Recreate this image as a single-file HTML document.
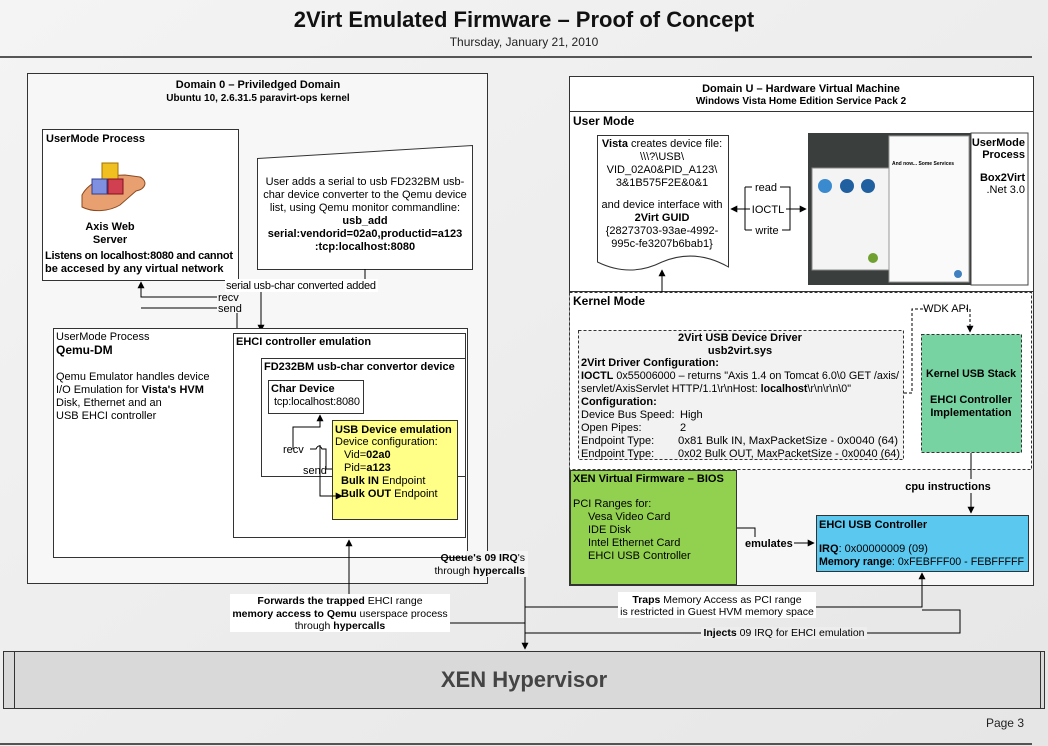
<!DOCTYPE html>
<html><head><meta charset="utf-8"><style>
html,body{margin:0;padding:0;background:#ededed;}
svg{display:block;font-family:"Liberation Sans",sans-serif;}
</style></head><body>
<svg width="1048" height="746" viewBox="0 0 1048 746" xmlns="http://www.w3.org/2000/svg">
<defs>
<marker id="a" viewBox="0 0 10 10" refX="9" refY="5" markerWidth="7" markerHeight="7" orient="auto-start-reverse"><path d="M0,0L10,5L0,10z" fill="#000"/></marker>
<linearGradient id="bg" x1="0" y1="0" x2="1" y2="1"><stop offset="0" stop-color="#f4f4f4"/><stop offset="1" stop-color="#e6e6e6"/></linearGradient>
</defs>
<rect width="1048" height="746" fill="url(#bg)"/>
<text x="524" y="27" font-size="22" font-weight="bold" text-anchor="middle" fill="#111">2Virt Emulated Firmware – Proof of Concept</text>
<text x="524" y="46" font-size="12" text-anchor="middle" fill="#222">Thursday, January 21, 2010</text>
<line x1="0" y1="57" x2="1032" y2="57" stroke="#222" stroke-width="1.5"/>

<!-- Domain 0 -->
<rect x="27.5" y="73.5" width="460" height="510" fill="#f7f7f7" stroke="#333"/>
<text x="258" y="88" font-size="11" font-weight="bold" text-anchor="middle">Domain 0 – Priviledged Domain</text>
<text x="258" y="101" font-size="10" font-weight="bold" text-anchor="middle">Ubuntu 10, 2.6.31.5 paravirt-ops kernel</text>

<rect x="42.5" y="129.5" width="196" height="151" fill="#fff" stroke="#333"/>
<text x="46" y="142" font-size="11" font-weight="bold">UserMode Process</text>
<g transform="translate(80,155)">
<path d="M2,40 C10,25 30,20 45,20 L60,22 C68,26 66,34 56,36 L40,50 C30,56 14,58 2,52z" fill="#e8a070" stroke="#8a4a20"/>
<rect x="22" y="8" width="16" height="16" fill="#f0c020" stroke="#a07000"/>
<rect x="12" y="24" width="15" height="15" fill="#8090e0" stroke="#304090"/>
<rect x="28" y="24" width="15" height="15" fill="#d04050" stroke="#801020"/>
</g>
<text x="110" y="230" font-size="11" font-weight="bold" text-anchor="middle">Axis Web</text>
<text x="110" y="243" font-size="11" font-weight="bold" text-anchor="middle">Server</text>
<text x="45" y="259" font-size="11" font-weight="bold" textLength="188">Listens on localhost:8080 and cannot</text>
<text x="45" y="272" font-size="11" font-weight="bold">be accesed by any virtual network</text>

<path d="M257.5,158.5 L472.5,145.5 L472.5,269.5 L257.5,269.5z" fill="#fff" stroke="#333"/>
<g font-size="11" text-anchor="middle"><text x="365" y="185">User adds a serial to usb FD232BM usb-</text>
<text x="365" y="198">char device  converter to the Qemu device</text>
<text x="365" y="211">list, using Qemu monitor commandline:</text>
<text x="365" y="224" font-weight="bold">usb_add</text>
<text x="365" y="237" font-weight="bold">serial:vendorid=02a0,productid=a123</text>
<text x="365" y="250" font-weight="bold">:tcp:localhost:8080</text></g>
<line x1="365" y1="269" x2="365" y2="280" stroke="#000"/>
<rect x="225" y="279" width="153" height="13" fill="#fff"/>
<text x="301" y="289" font-size="11" text-anchor="middle" textLength="150">serial usb-char converted added</text>
<line x1="261" y1="292" x2="261" y2="331" stroke="#000" marker-end="url(#a)"/>
<path d="M217,297 H141 V282" fill="none" stroke="#000" marker-end="url(#a)"/>
<path d="M217,308 H141" fill="none" stroke="#000"/>
<text x="218" y="301" font-size="11">recv</text>
<text x="218" y="312" font-size="11">send</text>
<line x1="237" y1="313" x2="237" y2="333" stroke="#000"/>

<!-- Qemu DM -->
<rect x="53.5" y="328.5" width="414" height="229" fill="#fff" stroke="#333"/>
<text x="56" y="340" font-size="11">UserMode Process</text>
<text x="56" y="354" font-size="12" font-weight="bold">Qemu-DM</text>
<g font-size="11"><text x="56" y="380">Qemu Emulator handles device</text>
<text x="56" y="393">I/O Emulation for <tspan font-weight="bold">Vista's HVM</tspan></text>
<text x="56" y="406">Disk, Ethernet and an</text>
<text x="56" y="419">USB EHCI controller</text></g>
<rect x="233.5" y="333.5" width="232" height="204" fill="#fff" stroke="#333"/>
<text x="236" y="345" font-size="11" font-weight="bold">EHCI controller emulation</text>
<rect x="261.5" y="358.5" width="204" height="118" fill="#fff" stroke="#333"/>
<text x="264" y="370" font-size="11" font-weight="bold">FD232BM usb-char convertor device</text>
<rect x="268.5" y="380.5" width="95" height="33" fill="#fff" stroke="#333"/>
<text x="271" y="392" font-size="11" font-weight="bold">Char Device</text>
<text x="274" y="405" font-size="11" textLength="86">tcp:localhost:8080</text>
<rect x="332.5" y="420.5" width="125" height="99" fill="#ffff88" stroke="#333"/>
<g font-size="11"><text x="335" y="433" font-weight="bold">USB Device emulation</text>
<text x="335" y="445">Device configuration:</text>
<text x="344" y="458">Vid=<tspan font-weight="bold">02a0</tspan></text>
<text x="344" y="471">Pid=<tspan font-weight="bold">a123</tspan></text>
<text x="341" y="484"><tspan font-weight="bold">Bulk IN</tspan> Endpoint</text>
<text x="341" y="497"><tspan font-weight="bold">Bulk OUT</tspan> Endpoint</text></g>
<path d="M293,449 V427 H320 V415" fill="none" stroke="#000" marker-end="url(#a)"/>
<path d="M310,449 h6 q3,-6 6,0 h4 V469 H332" fill="none" stroke="#000"/>
<path d="M320,445 V496 H342" fill="none" stroke="#000" marker-end="url(#a)"/>
<text x="283" y="453" font-size="11">recv</text>
<text x="303" y="474" font-size="11">send</text>
<line x1="349" y1="595" x2="349" y2="540" stroke="#000" marker-end="url(#a)"/>
<rect x="230" y="594" width="220" height="38" fill="#fff"/>
<g font-size="10.5" text-anchor="middle"><text x="340" y="604"><tspan font-weight="bold">Forwards the trapped</tspan> EHCI range</text>
<text x="340" y="617"><tspan font-weight="bold">memory access to Qemu</tspan> userspace process</text>
<text x="340" y="629">through <tspan font-weight="bold">hypercalls</tspan></text></g>
<line x1="450" y1="623" x2="525" y2="623" stroke="#000"/>
<rect x="466" y="551" width="62" height="26" fill="#f4f4f4"/>
<text x="525" y="561" font-size="10.5" text-anchor="end"><tspan font-weight="bold">Queue's 09 IRQ</tspan>'s</text>
<text x="525" y="574" font-size="10.5" text-anchor="end">through <tspan font-weight="bold">hypercalls</tspan></text>
<line x1="525" y1="577" x2="525" y2="649" stroke="#000" marker-end="url(#a)"/>

<!-- Domain U -->
<rect x="569.5" y="76.5" width="464" height="509" fill="#f7f7f7" stroke="#333"/>
<rect x="569.5" y="76.5" width="464" height="35" fill="#fff" stroke="#333"/>
<text x="801" y="92" font-size="11" font-weight="bold" text-anchor="middle">Domain U – Hardware Virtual Machine</text>
<text x="801" y="104" font-size="10" font-weight="bold" text-anchor="middle">Windows Vista Home Edition Service Pack 2</text>
<rect x="569.5" y="111.5" width="464" height="180" fill="#fff" stroke="#333"/>
<text x="573" y="125" font-size="12" font-weight="bold">User Mode</text>
<path d="M597.5,135.5 H728.5 V267 Q695,248 662,262 Q630,278 597.5,262z" fill="#fff" stroke="#333"/>
<g font-size="11" text-anchor="middle"><text x="662" y="147"><tspan font-weight="bold">Vista</tspan> creates device file:</text>
<text x="662" y="160">\\\?\USB\</text>
<text x="662" y="173">VID_02A0&amp;PID_A123\</text>
<text x="662" y="186">3&amp;1B575F2E&amp;0&amp;1</text>
<text x="662" y="208">and device interface with</text>
<text x="662" y="221" font-weight="bold">2Virt GUID</text>
<text x="662" y="234">{28273703-93ae-4992-</text>
<text x="662" y="247">995c-fe3207b6bab1}</text></g>
<path d="M745,187 V230 M745,187 H790 V230 H745" fill="none" stroke="#000"/>
<line x1="750" y1="209" x2="731" y2="209" stroke="#000" marker-end="url(#a)"/>
<line x1="785" y1="209" x2="806" y2="209" stroke="#000" marker-end="url(#a)"/>
<rect x="752" y="182" width="28" height="10" fill="#fff"/><text x="766" y="191" font-size="11" text-anchor="middle">read</text>
<rect x="752" y="203" width="34" height="12" fill="#fff"/><text x="768" y="213" font-size="11" text-anchor="middle">IOCTL</text>
<rect x="752" y="225" width="30" height="10" fill="#fff"/><text x="767" y="234" font-size="11" text-anchor="middle">write</text>
<rect x="808" y="133" width="163" height="152" fill="#3a3e3c"/>
<rect x="812" y="168" width="80" height="102" fill="#f4f4f4" stroke="#888"/>
<circle cx="825" cy="186" r="7" fill="#3a8ad0"/><circle cx="847" cy="186" r="7" fill="#2060a0"/><circle cx="868" cy="186" r="7" fill="#2060a0"/>
<circle cx="873" cy="258" r="5" fill="#70a030"/>
<rect x="889" y="136" width="80" height="146" fill="#fafafa" stroke="#999"/>
<text x="892" y="165" font-size="5" font-weight="bold">And now... Some Services</text>
<circle cx="958" cy="274" r="4" fill="#4080c0"/>
<rect x="971" y="133" width="57" height="152" fill="#fff" stroke="#444"/>
<g font-size="11" font-weight="bold" text-anchor="end"><text x="1025" y="146">UserMode</text><text x="1025" y="158">Process</text><text x="1025" y="181">Box2Virt</text></g>
<text x="1025" y="193" font-size="11" text-anchor="end">.Net 3.0</text>
<line x1="662" y1="293" x2="662" y2="270" stroke="#000" marker-end="url(#a)"/>

<rect x="569.5" y="292.5" width="462" height="177" fill="#fff" stroke="#333" stroke-dasharray="3,2"/>
<text x="573" y="305" font-size="12" font-weight="bold">Kernel Mode</text>
<rect x="578.5" y="330.5" width="325" height="129" fill="#f2f2f2" stroke="#333" stroke-dasharray="3,2"/>
<g font-size="11"><text x="740" y="341" font-weight="bold" text-anchor="middle">2Virt USB Device Driver</text>
<text x="740" y="354" font-weight="bold" text-anchor="middle">usb2virt.sys</text>
<text x="581" y="366" font-weight="bold">2Virt Driver Configuration:</text>
<text x="581" y="379" textLength="318" lengthAdjust="spacingAndGlyphs"><tspan font-weight="bold">IOCTL</tspan> 0x55006000 – returns "Axis 1.4 on Tomcat 6.0\0 GET /axis/</text>
<text x="581" y="392" textLength="270" lengthAdjust="spacingAndGlyphs">servlet/AxisServlet HTTP/1.1\r\nHost: <tspan font-weight="bold">localhost</tspan>\r\n\r\n\0"</text>
<text x="581" y="405" font-weight="bold">Configuration:</text>
<text x="581" y="418">Device Bus Speed:</text><text x="680" y="418">High</text>
<text x="581" y="431">Open Pipes:</text><text x="680" y="431">2</text>
<text x="581" y="444">Endpoint Type:</text><text x="678" y="444" textLength="220" lengthAdjust="spacingAndGlyphs">0x81  Bulk IN, MaxPacketSize    - 0x0040 (64)</text>
<text x="581" y="457">Endpoint Type:</text><text x="678" y="457" textLength="222" lengthAdjust="spacingAndGlyphs">0x02  Bulk OUT, MaxPacketSize - 0x0040 (64)</text></g>
<rect x="921.5" y="334.5" width="100" height="118" fill="#77d3a2" stroke="#333" stroke-dasharray="3,2"/>
<g font-size="11" font-weight="bold" text-anchor="middle"><text x="971" y="377" textLength="90" lengthAdjust="spacingAndGlyphs">Kernel USB Stack</text><text x="971" y="403">EHCI Controller</text><text x="971" y="416">Implementation</text></g>
<path d="M904,393 H912 V309 H970 V332" fill="none" stroke="#000" stroke-dasharray="3,2" marker-end="url(#a)"/>
<rect x="926" y="302" width="40" height="12" fill="#fff"/><text x="946" y="312" font-size="11" text-anchor="middle">WDK API</text>

<rect x="570.5" y="470.5" width="166" height="114" fill="#92d050" stroke="#333"/>
<g font-size="11"><text x="573" y="482" font-weight="bold">XEN Virtual Firmware – BIOS</text>
<text x="573" y="507">PCI Ranges for:</text>
<text x="588" y="520">Vesa Video Card</text><text x="588" y="533">IDE Disk</text>
<text x="588" y="546">Intel Ethernet Card</text><text x="588" y="559">EHCI USB Controller</text></g>
<path d="M737,528 H755 V537" fill="none" stroke="#000"/>
<text x="745" y="547" font-size="11" font-weight="bold">emulates</text>
<line x1="794" y1="543" x2="814" y2="543" stroke="#000" marker-end="url(#a)"/>
<rect x="816.5" y="515.5" width="212" height="56" fill="#5bc8f0" stroke="#333"/>
<g font-size="11"><text x="819" y="528" font-weight="bold">EHCI USB Controller</text>
<text x="819" y="552"><tspan font-weight="bold">IRQ</tspan>: 0x00000009 (09)</text>
<text x="819" y="565" textLength="205" lengthAdjust="spacingAndGlyphs"><tspan font-weight="bold">Memory range</tspan>: 0xFEBFFF00 - FEBFFFFF</text></g>
<line x1="971" y1="453" x2="971" y2="513" stroke="#000" marker-end="url(#a)"/>
<rect x="905" y="479" width="87" height="14" fill="#f7f7f7"/>
<text x="948" y="490" font-size="11" font-weight="bold" text-anchor="middle">cpu instructions</text>

<!-- lower connectors -->
<path d="M525,607 H922 V573" fill="none" stroke="#000" marker-end="url(#a)"/>
<path d="M525,633 H960 V610 H922" fill="none" stroke="#000"/>
<rect x="618" y="592" width="198" height="26" fill="#fff"/>
<g font-size="10.5" text-anchor="middle"><text x="717" y="603"><tspan font-weight="bold">Traps</tspan> Memory Access as PCI range</text>
<text x="717" y="615">is restricted in Guest HVM memory space</text></g>
<rect x="701" y="627" width="166" height="12" fill="#ededed"/>
<text x="784" y="636" font-size="10.5" text-anchor="middle"><tspan font-weight="bold">Injects</tspan> 09 IRQ for EHCI emulation</text>

<rect x="3.5" y="651.5" width="1041" height="57" fill="#d9d9d9" stroke="#333"/>
<line x1="14.5" y1="652" x2="14.5" y2="708" stroke="#333"/>
<line x1="1040.5" y1="652" x2="1040.5" y2="708" stroke="#333"/>
<text x="524" y="687" font-size="22" font-weight="bold" text-anchor="middle" fill="#444">XEN Hypervisor</text>
<text x="1024" y="727" font-size="12" text-anchor="end" fill="#222">Page 3</text>
<line x1="0" y1="744" x2="1032" y2="744" stroke="#222" stroke-width="1.5"/>
</svg>
</body></html>
